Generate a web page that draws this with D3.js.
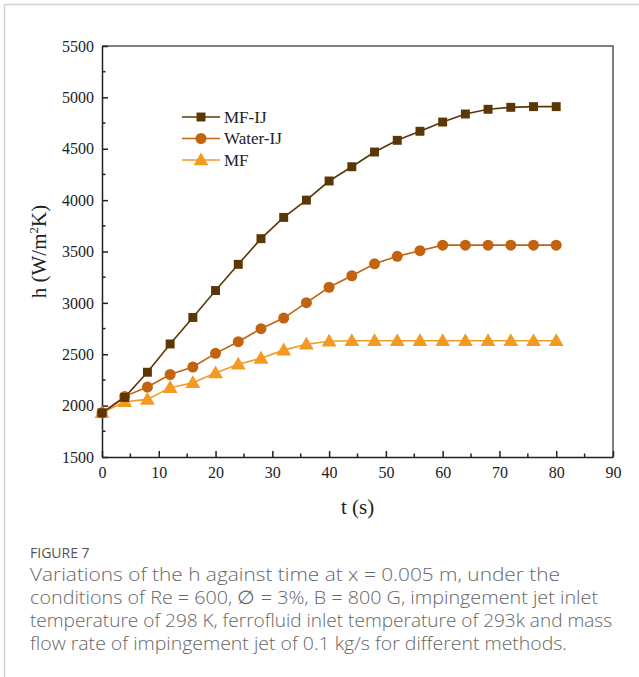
<!DOCTYPE html>
<html>
<head>
<meta charset="utf-8">
<script src="https://cdn.jsdelivr.net/npm/d3@7"></script>
<style>
  html, body { margin: 0; padding: 0; background: #fff; }
  svg { display: block; }
</style>
</head>
<body>
<svg id="chart" width="639" height="677"></svg>
<script>
// Time samples (s)
const times = [0, 4, 8, 12, 16, 20, 24, 28, 32, 36, 40, 44, 48, 52, 56, 60, 64, 68, 72, 76, 80];

// Heat transfer coefficient h (W/m^2K) for each method
const mfIj    = [1930, 2080, 2325, 2600, 2858, 3120, 3375, 3625, 3832, 4000, 4186, 4325, 4468, 4582, 4670, 4760, 4838, 4884, 4903, 4910, 4910];
const waterIj = [1930, 2090, 2181, 2303, 2376, 2509, 2622, 2749, 2852, 3002, 3152, 3264, 3380, 3453, 3508, 3562, 3562, 3562, 3562, 3562, 3562];
const mf      = [1930, 2038, 2061, 2175, 2223, 2318, 2402, 2460, 2540, 2597, 2626, 2632, 2632, 2632, 2632, 2632, 2632, 2632, 2632, 2632, 2632];

const seriesNames = ["MF-IJ", "Water-IJ", "MF"];
const seriesColors = ["#5b3706", "#c1630f", "#f39a22"];
const seriesSymbols = [d3.symbolSquare, d3.symbolCircle, d3.symbolTriangle];

const xTicks = [0, 10, 20, 30, 40, 50, 60, 70, 80, 90];
const yTicks = [1500, 2000, 2500, 3000, 3500, 4000, 4500, 5000, 5500];

const captionTitle = "FIGURE 7";
const captionLines = [
  "Variations of the h against time at x = 0.005 m, under the",
  "conditions of Re = 600, \u2205 = 3%, B = 800 G, impingement jet inlet",
  "temperature of 298 K, ferrofluid inlet temperature of 293k and mass",
  "flow rate of impingement jet of 0.1 kg/s for different methods."
];
// Set widths of the caption lines
const captionWidths = [530, 568, 582, 537];

const svg = d3.select("#chart");
const serif = "'Liberation Serif', 'Times New Roman', serif";

// Outer panel edges
svg.append("line").attr("x1", 4).attr("x2", 639).attr("y1", 4.5).attr("y2", 4.5)
  .attr("stroke", "#d4d4d4").attr("stroke-width", 1.5);
svg.append("line").attr("x1", 4.5).attr("x2", 4.5).attr("y1", 4).attr("y2", 677)
  .attr("stroke", "#d4d4d4").attr("stroke-width", 1.5);

const plot = { left: 102, right: 613, top: 46, bottom: 457 };

const x = d3.scaleLinear().domain([0, 90]).range([plot.left, plot.right]);
const y = d3.scaleLinear().domain([1500, 5500]).range([plot.bottom, plot.top]);

// Frame: top and right edges
svg.append("path")
  .attr("d", `M${plot.left},${plot.top}H${plot.right}V${plot.bottom}`)
  .attr("fill", "none").attr("stroke", "#555").attr("stroke-width", 1.5);

// Minor ticks (inward)
const xMinor = d3.range(5, 90, 10);
const yMinor = d3.range(1750, 5500, 500);

const xAxis = svg.append("g").attr("transform", `translate(0,${plot.bottom})`)
  .call(d3.axisBottom(x).tickValues(xTicks).tickSizeInner(-6).tickSizeOuter(0).tickPadding(10).tickFormat(d3.format("d")));
const yAxis = svg.append("g").attr("transform", `translate(${plot.left},0)`)
  .call(d3.axisLeft(y).tickValues(yTicks).tickSizeInner(-6).tickSizeOuter(0).tickPadding(8).tickFormat(d3.format("d")));

[xAxis, yAxis].forEach(g => {
  g.select(".domain").attr("stroke", "#222").attr("stroke-width", 1.5);
  g.selectAll(".tick line").attr("stroke", "#222").attr("stroke-width", 1.5);
  g.selectAll(".tick text").attr("font-family", serif).attr("font-size", 16).attr("fill", "#222");
});

xAxis.selectAll(".minor").data(xMinor).enter().append("line")
  .attr("x1", d => x(d)).attr("x2", d => x(d)).attr("y1", 0).attr("y2", -3.5)
  .attr("stroke", "#222").attr("stroke-width", 1.5);
yAxis.selectAll(".minor").data(yMinor).enter().append("line")
  .attr("y1", d => y(d)).attr("y2", d => y(d)).attr("x1", 0).attr("x2", 3.5)
  .attr("stroke", "#222").attr("stroke-width", 1.5);

// Axis titles
svg.append("text").attr("x", x(45)).attr("y", 514).attr("text-anchor", "middle")
  .attr("font-family", serif).attr("font-size", 21).attr("fill", "#222").text("t (s)");

const yTitle = svg.append("text")
  .attr("transform", `translate(46,${(plot.top + plot.bottom) / 2}) rotate(-90)`)
  .attr("text-anchor", "middle").attr("font-family", serif).attr("font-size", 21).attr("fill", "#222");
yTitle.append("tspan").text("h (W/m");
yTitle.append("tspan").attr("font-size", 13).attr("dy", -8).text("2");
yTitle.append("tspan").attr("dy", 8).text("K)");

// Series
const allSeries = [mfIj, waterIj, mf];
const line = d3.line().x((d, i) => x(times[i])).y(d => y(d));
const symbolSizes = [80, 95, 95];

// Draw lightest series first so darker ones sit on top
[2, 1, 0].forEach(s => {
  const vals = allSeries[s];
  svg.append("path").datum(vals).attr("d", line)
    .attr("fill", "none").attr("stroke", seriesColors[s]).attr("stroke-width", 1.6);
  svg.append("g").selectAll("path").data(vals).enter().append("path")
    .attr("transform", (d, i) => `translate(${x(times[i])},${y(d) + (s === 2 ? 1 : 0)})`)
    .attr("d", d3.symbol().type(seriesSymbols[s]).size(symbolSizes[s]))
    .attr("fill", seriesColors[s]);
});

// Legend
const legend = svg.append("g").attr("transform", "translate(182,117)");
seriesNames.forEach((name, i) => {
  const row = legend.append("g").attr("transform", `translate(0,${i * 21.5})`);
  row.append("line").attr("x1", 0).attr("x2", 38).attr("y1", 0).attr("y2", 0)
    .attr("stroke", seriesColors[i]).attr("stroke-width", 1.6);
  row.append("path").attr("transform", `translate(19,${i === 2 ? 1 : 0})`)
    .attr("d", d3.symbol().type(seriesSymbols[i]).size(symbolSizes[i])).attr("fill", seriesColors[i]);
  row.append("text").attr("x", 42).attr("y", 5.5)
    .attr("font-family", serif).attr("font-size", 17).attr("fill", "#222").text(name);
});

// Caption
const sans = "'Open Sans', 'Noto Sans', sans-serif";
svg.append("text").attr("x", 30).attr("y", 558)
  .attr("font-family", sans).attr("font-size", 14).attr("fill", "#555").text(captionTitle);
captionLines.forEach((t, i) => {
  svg.append("text").attr("x", 30).attr("y", 581 + i * 23)
    .attr("font-family", sans).attr("font-size", 18.5).attr("font-weight", 300).attr("fill", "#666")
    .attr("textLength", captionWidths[i]).attr("lengthAdjust", "spacingAndGlyphs").text(t);
});
</script>
</body>
</html>
